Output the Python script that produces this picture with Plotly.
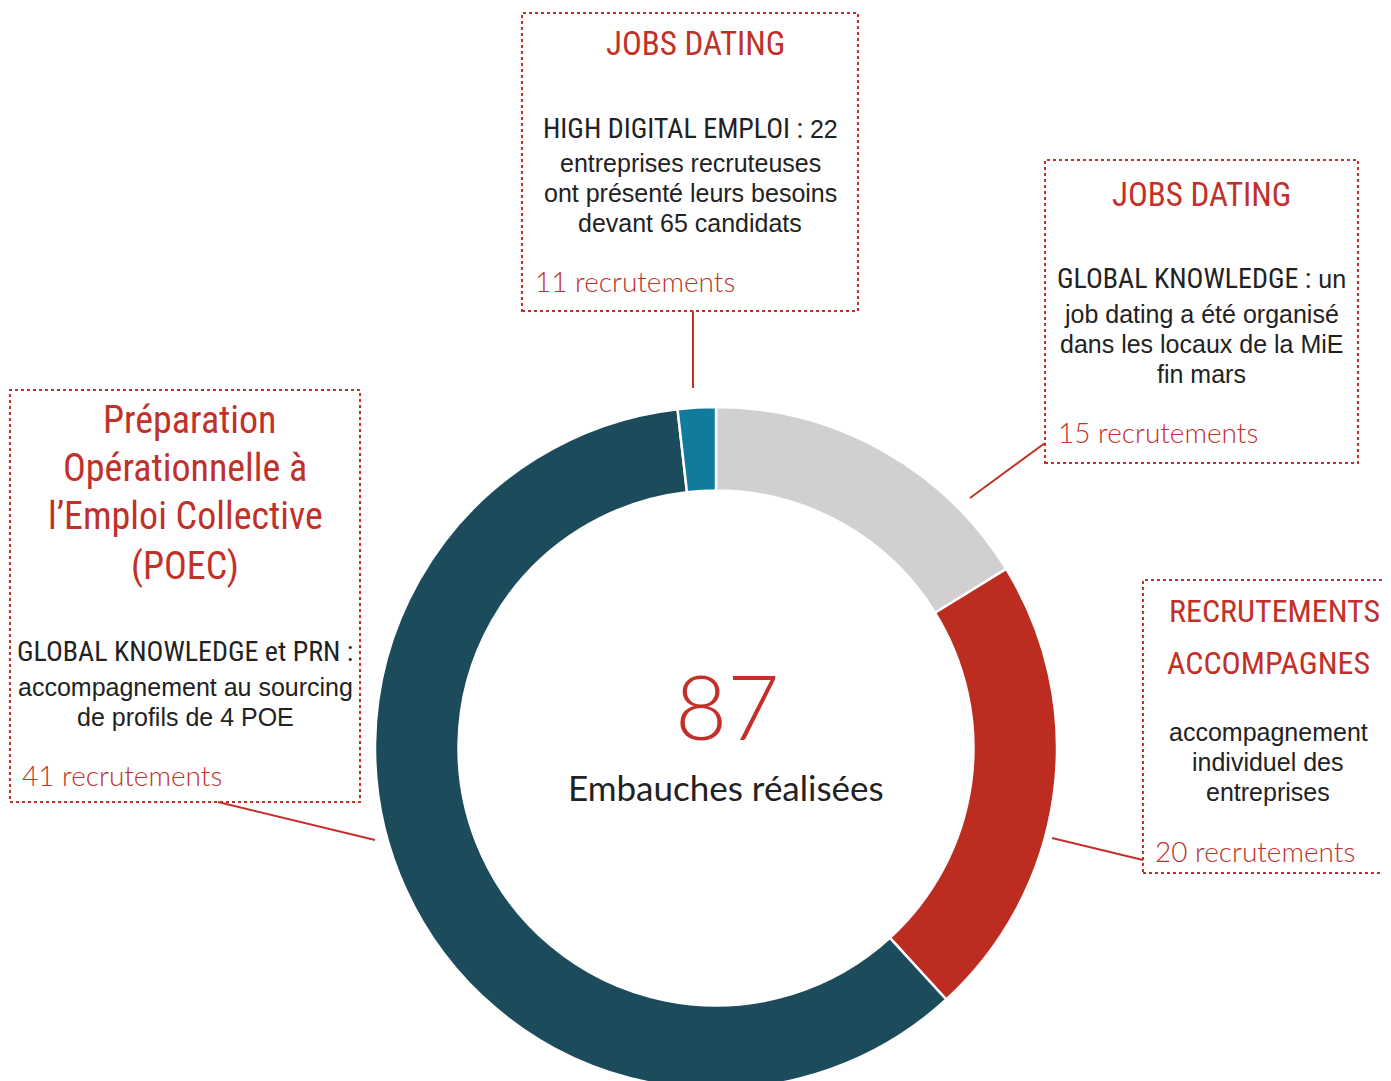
import plotly.graph_objects as go

# ---------------- data ----------------
categories = ["Jobs dating – Global Knowledge", "Recrutements accompagnés",
              "POEC", "Jobs dating – High Digital Emploi"]
# share of the ring each slice occupies in the picture (clockwise from 12 o'clock)
slice_share = [16.2, 22.0, 60.0, 1.8]
recrutements = [15, 20, 41, 11]
total_embauches = 87
slice_colors = ["#d1cfd0", "#bc2c20", "#1c4c5b", "#117b9d"]

W, H = 1391, 1081
OFF = 8  # page body margin
RED = "#c1312a"
DARK = "#222222"
COND = "Noto Sans ExtraCondensed, Noto Sans Condensed, Roboto Condensed, Arial Narrow, Roboto, sans-serif"
BODY = "Liberation Sans, Arial, sans-serif"
THIN = "Lato, Roboto, sans-serif"


def fx(x):
    return (x - OFF) / W


def fy(y):
    return 1 - (y - OFF) / H


fig = go.Figure()
# ring: centre (716, 748) page px, outer radius ~341
fig.add_trace(go.Pie(
    labels=categories, values=slice_share, hole=0.755, sort=False,
    direction="clockwise", rotation=0,
    marker=dict(colors=slice_colors, line=dict(color="white", width=2.5)),
    textinfo="none", hoverinfo="label", showlegend=False,
    domain=dict(x=[fx(716 - 341), fx(716 + 341)], y=[0, fy(407)]),
))

ann = []


def txt(x, y, text, size, color=DARK, family=BODY, xanchor="center", weight="normal"):
    ann.append(dict(x=fx(x), y=fy(y), xref="paper", yref="paper", text=text,
                    showarrow=False, xanchor=xanchor, yanchor="middle",
                    font=dict(size=size, color=color, family=family, weight=weight)))


def rec_label(x, y, n):
    txt(x, y, f"{n} recrutements", 28, RED, THIN, "left", 300)


def head_body(head, tail, size_head):
    return (f"<span style='font-family:{COND};font-size:{size_head}px'>{head}</span>"
            f"<span style='font-family:{BODY};font-size:25px'>{tail}</span>")


# Box 1 — High Digital Emploi
txt(695, 44, "JOBS DATING", 33, RED, COND)
txt(690, 128, head_body("HIGH DIGITAL EMPLOI :", " 22", 28), 25)
txt(690, 163, "entreprises recruteuses", 25)
txt(690, 193, "ont présenté leurs besoins", 25)
txt(690, 223, "devant 65 candidats", 25)
rec_label(533, 281, recrutements[3])

# Box 2 — Global Knowledge job dating
txt(1201, 195, "JOBS DATING", 33, RED, COND)
txt(1201, 279, head_body("GLOBAL KNOWLEDGE :", " un", 28), 25)
txt(1201, 314, "job dating a été organisé", 25)
txt(1201, 344, "dans les locaux de la MiE", 25)
txt(1201, 374, "fin mars", 25)
rec_label(1056, 432, recrutements[0])

# Box 3 — Recrutements accompagnés
txt(1274, 611, "RECRUTEMENTS", 32, RED, COND)
txt(1268, 663, "ACCOMPAGNES", 32, RED, COND)
txt(1268, 732, "accompagnement", 25)
txt(1268, 762, "individuel des", 25)
txt(1268, 792, "entreprises", 25)
rec_label(1153, 851, recrutements[1])

# Box 4 — POEC
txt(190, 420, "Préparation", 38, RED, COND)
txt(185, 468, "Opérationnelle à", 38, RED, COND)
txt(185, 516, "l’Emploi Collective", 38, RED, COND)
txt(185, 566, "(POEC)", 38, RED, COND)
txt(185, 651, "GLOBAL KNOWLEDGE et PRN :", 28, DARK, COND)
txt(185, 687, "accompagnement au sourcing", 25)
txt(185, 717, "de profils de 4 POE", 25)
rec_label(20, 775, recrutements[2])

# Centre
txt(727, 705, str(total_embauches), 90, RED, THIN, weight=300)
txt(726, 787, "Embauches réalisées", 35, DARK, THIN)

shapes = []


def box(x0, y0, x1, y1):
    shapes.append(dict(type="rect", xref="paper", yref="paper",
                       x0=fx(x0), x1=fx(x1), y0=fy(y1), y1=fy(y0),
                       line=dict(color=RED, width=2, dash="dot"),
                       fillcolor="rgba(0,0,0,0)"))


def lead(x0, y0, x1, y1):
    shapes.append(dict(type="line", xref="paper", yref="paper",
                       x0=fx(x0), y0=fy(y0), x1=fx(x1), y1=fy(y1),
                       line=dict(color=RED, width=2)))


box(522, 13, 858, 311)
box(1045, 160, 1358, 463)
box(1143, 580, 1389, 873)
box(10, 390, 360, 802)
lead(693, 311, 693, 388)
lead(1045, 443, 970, 498)
lead(1143, 860, 1052, 838)
lead(218, 802, 375, 840)

fig.update_layout(
    width=W, height=H, margin=dict(l=0, r=0, t=0, b=0),
    paper_bgcolor="white", plot_bgcolor="white",
    annotations=ann, shapes=shapes,
)

fig.write_html("out.html")
